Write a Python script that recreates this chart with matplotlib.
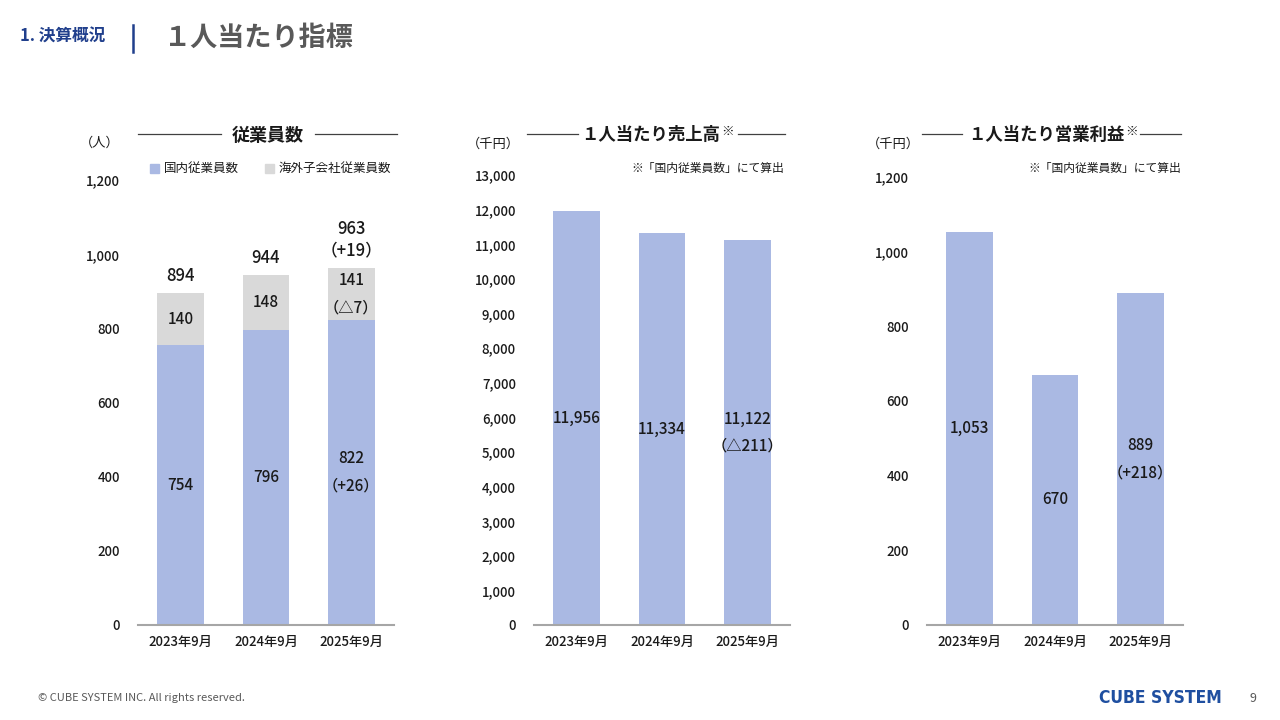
import matplotlib
matplotlib.use("Agg")
import matplotlib.pyplot as plt
from matplotlib.lines import Line2D
from matplotlib.patches import Rectangle

plt.rcParams['font.family'] = ['Noto Sans CJK JP', 'DejaVu Sans']

# ---- data ----
periods = ["2023年9月", "2024年9月", "2025年9月"]
domestic = [754, 796, 822]
overseas = [140, 148, 141]
totals = [894, 944, 963]
sales_per = [11956, 11334, 11122]
profit_per = [1053, 670, 889]

emp_ticks = [0, 200, 400, 600, 800, 1000, 1200]
sales_ticks = list(range(0, 13001, 1000))
profit_ticks = [0, 200, 400, 600, 800, 1000, 1200]

BLUE = "#aab9e3"
GREY = "#d9d9d9"
AXGREY = "#a6a6a6"
TXT = "#1a1a1a"
NAVY = "#203f8c"

W, H = 1280, 720
fig = plt.figure(figsize=(12.8, 7.2), dpi=100)
fig.patch.set_facecolor("white")


def px_axes(x0, x1, y_top, y_bottom):
    return fig.add_axes([x0 / W, 1 - y_bottom / H, (x1 - x0) / W, (y_bottom - y_top) / H])


def style(ax, ymax, ticks):
    ax.set_xlim(-0.5, 2.5)
    ax.set_ylim(0, ymax)
    ax.set_yticks(ticks)
    ax.set_yticklabels([f"{t:,}" for t in ticks])
    ax.set_xticks(range(3))
    ax.set_xticklabels(periods)
    for s in ["top", "right", "left"]:
        ax.spines[s].set_visible(False)
    ax.spines["bottom"].set_color(AXGREY)
    ax.spines["bottom"].set_linewidth(1.5)
    ax.tick_params(axis="y", length=0, pad=13, labelsize=9.5, colors=TXT)
    ax.tick_params(axis="x", length=0, pad=7, labelsize=9.5, colors=TXT)
    for lbl in ax.get_xticklabels() + ax.get_yticklabels():
        lbl.set_fontweight("medium")
    ax.set_facecolor("none")


def fx(x):
    return x / W


def fy(y):
    return 1 - y / H


LBL = dict(ha="center", va="center", fontsize=11, color=TXT, linespacing=1.8, fontweight="medium")

# ---- header ----
fig.text(fx(20), fy(37), "1. 決算概況", fontsize=12, fontweight="bold", color=NAVY, va="center")
fig.add_artist(Line2D([fx(133), fx(133)], [fy(25), fy(52)], color=NAVY, lw=1.8))
fig.text(fx(164), fy(38), "１人当たり指標", fontsize=19.5, fontweight="bold", color="#595959", va="center")

# ---- footer ----
fig.text(fx(38), fy(698), "© CUBE SYSTEM INC. All rights reserved.", fontsize=8, color="#595959", va="center")
fig.text(fx(1222), fy(698), "CUBE SYSTEM", fontsize=12.5, fontweight="heavy", color="#1f4fa0",
         va="center", ha="right", family=["DejaVu Sans"], fontstretch="condensed")
fig.text(fx(1253), fy(699), "9", fontsize=9, color="#595959", va="center", ha="center")

# ---- chart 1: employees ----
ax1 = px_axes(138, 394, 180, 625)
x = range(3)
ax1.bar(x, domestic, width=0.55, color=BLUE)
ax1.bar(x, overseas, width=0.55, bottom=domestic, color=GREY)
style(ax1, 1200, emp_ticks)
dom_lbl = ["754", "796", "822\n（+26）"]
ovs_lbl = ["140", "148", "141\n（△7）"]
tot_lbl = ["894", "944", "963\n（+19）"]
for i in range(3):
    ax1.text(i, domestic[i] / 2, dom_lbl[i], **LBL)
    ax1.text(i, domestic[i] + overseas[i] / 2, ovs_lbl[i], **LBL)
    ax1.text(i, totals[i] + 22, tot_lbl[i], ha="center", va="bottom", fontsize=12,
             color=TXT, linespacing=1.25, fontweight="medium")

fig.text(fx(100), fy(143), "（人）", fontsize=9.5, color=TXT, ha="center", va="center")
fig.text(fx(268), fy(135), "従業員数", fontsize=13, fontweight="bold", color=TXT, ha="center", va="center")
fig.add_artist(Line2D([fx(138), fx(221)], [fy(134), fy(134)], color="#404040", lw=0.9))
fig.add_artist(Line2D([fx(315), fx(397)], [fy(134), fy(134)], color="#404040", lw=0.9))
fig.add_artist(Rectangle((fx(150), fy(173)), 9 / W, 9 / H, color=BLUE, transform=fig.transFigure))
fig.text(fx(164), fy(168), "国内従業員数", fontsize=9, color=TXT, va="center")
fig.add_artist(Rectangle((fx(265), fy(173)), 9 / W, 9 / H, color=GREY, transform=fig.transFigure))
fig.text(fx(279), fy(168), "海外子会社従業員数", fontsize=9, color=TXT, va="center")

# ---- chart 2: sales per person ----
ax2 = px_axes(534, 790, 175, 625)
ax2.bar(x, sales_per, width=0.55, color=BLUE)
style(ax2, 13000, sales_ticks)
s_lbl = ["11,956", "11,334", "11,122\n（△211）"]
for i in range(3):
    ax2.text(i, sales_per[i] / 2, s_lbl[i], **LBL)
fig.text(fx(493), fy(144), "（千円）", fontsize=9.5, color=TXT, ha="center", va="center")
fig.text(fx(720), fy(135), "１人当たり売上高", fontsize=12.5, fontweight="bold", color=TXT, ha="right", va="center")
fig.text(fx(721), fy(131), "※", fontsize=9, fontweight="bold", color=TXT, ha="left", va="center")
fig.add_artist(Line2D([fx(527), fx(578)], [fy(134), fy(134)], color="#404040", lw=0.9))
fig.add_artist(Line2D([fx(738), fx(785)], [fy(134), fy(134)], color="#404040", lw=0.9))
fig.text(fx(784), fy(168), "※「国内従業員数」にて算出", fontsize=8.5, color=TXT, ha="right", va="center")

# ---- chart 3: operating profit per person ----
ax3 = px_axes(927, 1183, 177, 625)
ax3.bar(x, profit_per, width=0.55, color=BLUE)
style(ax3, 1200, profit_ticks)
p_lbl = ["1,053", "670", "889\n（+218）"]
for i in range(3):
    ax3.text(i, profit_per[i] / 2, p_lbl[i], **LBL)
fig.text(fx(893), fy(144), "（千円）", fontsize=9.5, color=TXT, ha="center", va="center")
fig.text(fx(1124), fy(135), "１人当たり営業利益", fontsize=12.5, fontweight="bold", color=TXT, ha="right", va="center")
fig.text(fx(1125), fy(131), "※", fontsize=9, fontweight="bold", color=TXT, ha="left", va="center")
fig.add_artist(Line2D([fx(922), fx(962)], [fy(134), fy(134)], color="#404040", lw=0.9))
fig.add_artist(Line2D([fx(1140), fx(1181)], [fy(134), fy(134)], color="#404040", lw=0.9))
fig.text(fx(1181), fy(168), "※「国内従業員数」にて算出", fontsize=8.5, color=TXT, ha="right", va="center")

fig.savefig("out.png", dpi=100, facecolor="white")
